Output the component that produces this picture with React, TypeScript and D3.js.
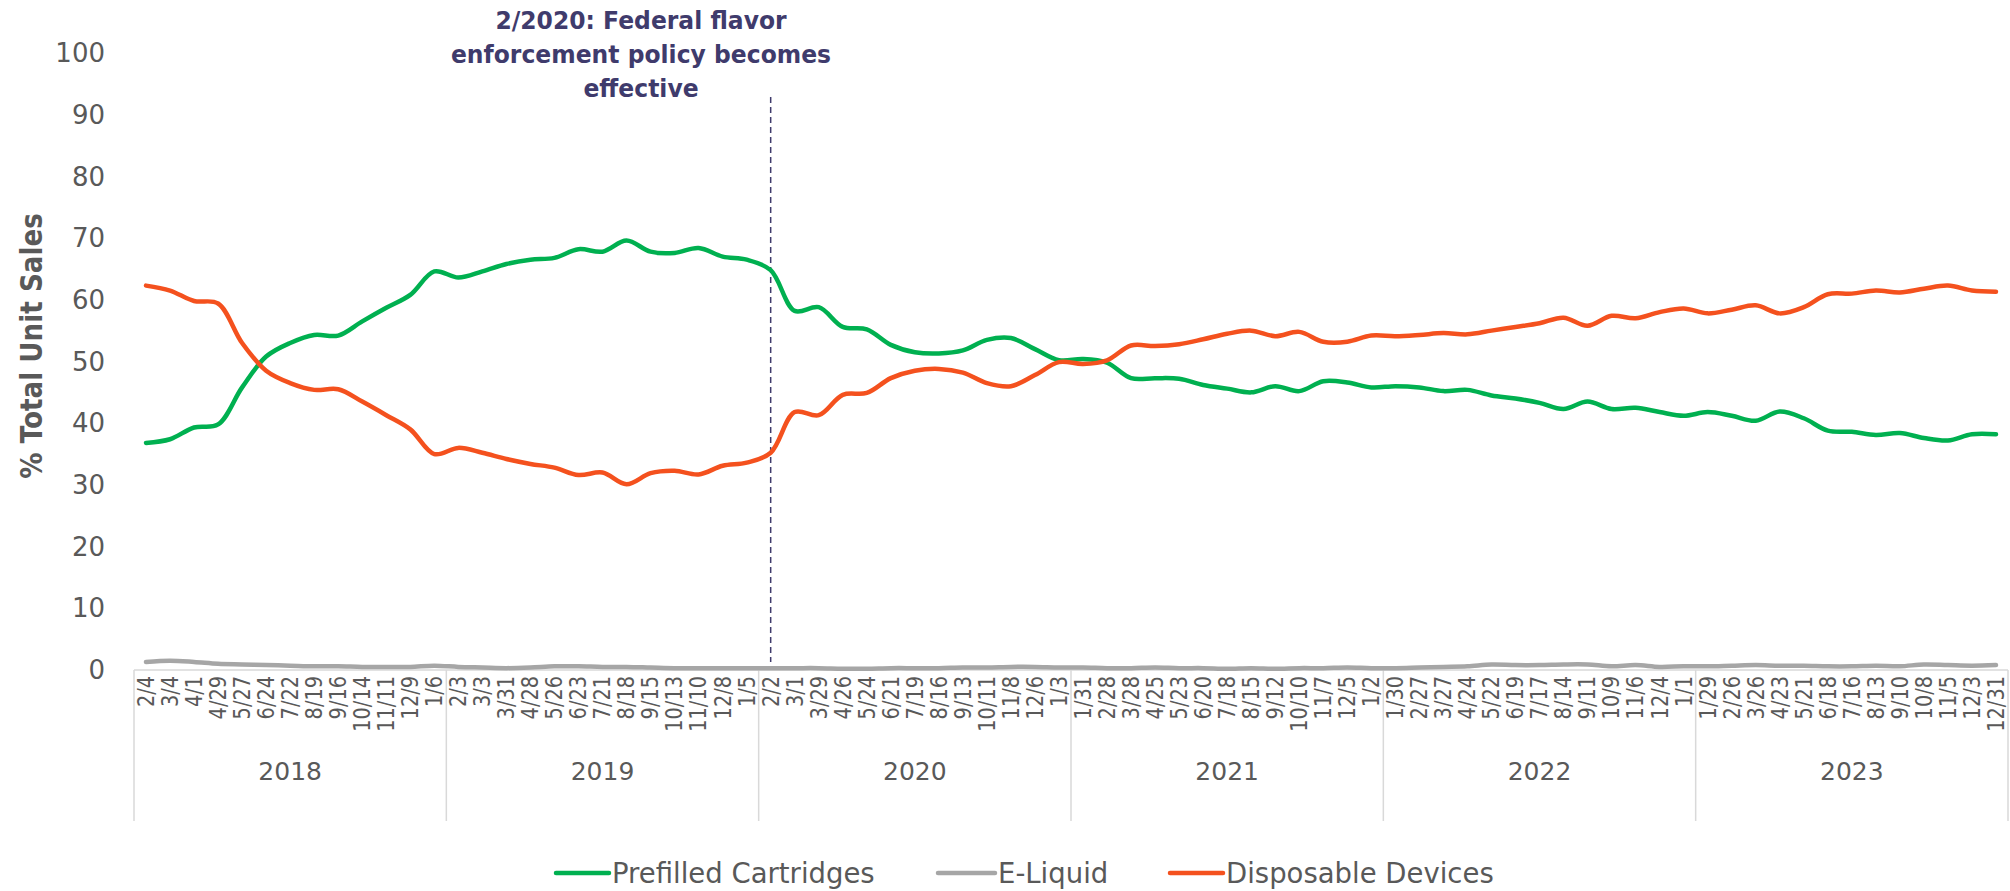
import React from "react";
import * as d3 from "d3";

const dateLabels = [
  "2/4","3/4","4/1","4/29","5/27","6/24","7/22","8/19","9/16","10/14","11/11","12/9","1/6",
  "2/3","3/3","3/31","4/28","5/26","6/23","7/21","8/18","9/15","10/13","11/10","12/8","1/5",
  "2/2","3/1","3/29","4/26","5/24","6/21","7/19","8/16","9/13","10/11","11/8","12/6","1/3",
  "1/31","2/28","3/28","4/25","5/23","6/20","7/18","8/15","9/12","10/10","11/7","12/5","1/2",
  "1/30","2/27","3/27","4/24","5/22","6/19","7/17","8/14","9/11","10/9","11/6","12/4","1/1",
  "1/29","2/26","3/26","4/23","5/21","6/18","7/16","8/13","9/10","10/8","11/5","12/3","12/31",
];
const years = ["2018", "2019", "2020", "2021", "2022", "2023"];
const yearSizes = [13, 13, 13, 13, 13, 13];

const prefilled = [
  36.8, 37.4, 39.3, 39.8, 45.8, 50.8, 53.0, 54.3, 54.2, 56.5, 58.7, 60.8, 64.6,
  63.6, 64.6, 65.8, 66.5, 66.8, 68.2, 67.8, 69.6, 67.8, 67.6, 68.4, 67.0, 66.5,
  64.8, 58.2, 58.8, 55.6, 55.2, 52.7, 51.5, 51.3, 51.8, 53.5, 53.8, 52.0, 50.2,
  50.4, 49.8, 47.3, 47.3, 47.2, 46.2, 45.6, 45.0, 46.0, 45.2, 46.8, 46.6, 45.8,
  46.0, 45.8, 45.2, 45.4, 44.5, 44.0, 43.3, 42.3, 43.5, 42.3, 42.5, 41.8, 41.2,
  41.8, 41.2, 40.4, 41.9, 40.8, 38.8, 38.6, 38.1, 38.4, 37.6, 37.2, 38.2, 38.2,
];
const eLiquid = [
  1.3, 1.5, 1.3, 1.0, 0.9, 0.8, 0.7, 0.6, 0.6, 0.5, 0.5, 0.5, 0.7,
  0.5, 0.4, 0.3, 0.4, 0.6, 0.6, 0.5, 0.5, 0.4, 0.3, 0.3, 0.3, 0.3,
  0.3, 0.3, 0.3, 0.2, 0.2, 0.3, 0.3, 0.3, 0.4, 0.4, 0.5, 0.5, 0.4,
  0.4, 0.3, 0.3, 0.4, 0.3, 0.3, 0.2, 0.3, 0.2, 0.3, 0.3, 0.4, 0.3,
  0.3, 0.4, 0.5, 0.6, 0.9, 0.8, 0.8, 0.9, 0.9, 0.6, 0.8, 0.5, 0.6,
  0.6, 0.7, 0.8, 0.7, 0.7, 0.6, 0.6, 0.7, 0.6, 0.9, 0.8, 0.7, 0.8,
];
const disposable = [
  62.3, 61.5, 59.8, 59.4, 53.0, 48.5, 46.5, 45.4, 45.5, 43.5, 41.3, 39.0, 35.0,
  36.0, 35.2, 34.2, 33.4, 32.8, 31.6, 32.0, 30.1, 31.9, 32.3, 31.7, 33.1, 33.6,
  35.2, 41.8, 41.3, 44.6, 44.9, 47.3, 48.5, 48.8, 48.2, 46.5, 46.0, 47.8, 49.9,
  49.6, 50.2, 52.6, 52.5, 52.8, 53.6, 54.5, 55.0, 54.1, 54.8, 53.2, 53.2, 54.2,
  54.1, 54.3, 54.6, 54.4, 55.0, 55.6, 56.2, 57.1, 55.8, 57.4, 57.0, 58.0, 58.6,
  57.8, 58.4, 59.1, 57.8, 58.8, 60.9, 61.0, 61.5, 61.2, 61.8, 62.3, 61.5, 61.3,
];
const seriesNames = ["Prefilled Cartridges", "E-Liquid", "Disposable Devices"];
const seriesColors = ["#00B050", "#A6A6A6", "#F4511E"];
const yTicks = [0, 10, 20, 30, 40, 50, 60, 70, 80, 90, 100];
const annotationLines = ["2/2020: Federal flavor", "enforcement policy becomes", "effective"];
const annotationIndex = 26;

const W = 2010;
const H = 891;
const FONT = "'DejaVu Sans', Verdana, sans-serif";
const TXT = "#595959";

export default function App() {
  const x = d3.scaleBand<number>().domain(d3.range(dateLabels.length)).range([134, 2008]).padding(0);
  const cx = (i: number) => (x(i) as number) + x.bandwidth() / 2;
  const y = d3.scaleLinear().domain([0, 100]).range([670, 53]);
  const line = d3
    .line<number>()
    .x((_, i) => cx(i))
    .y((d) => y(d))
    .curve(d3.curveCatmullRom.alpha(0.5));
  const series = [prefilled, eLiquid, disposable];

  let acc = 0;
  const groups = yearSizes.map((n, k) => {
    const start = acc;
    acc += n;
    return { year: years[k], start, end: acc };
  });
  const boundaryX = (idx: number) => (idx >= dateLabels.length ? 2008 : (x(idx) as number));

  const legendItems = [
    { m0: 556, m1: 609, t: 612 },
    { m0: 938, m1: 995, t: 998 },
    { m0: 1170, m1: 1223, t: 1226 },
  ];
  const legendY = 873;

  return (
    <svg
      width={W}
      height={H}
      style={{ position: "absolute", left: 0, top: 0, background: "#fff" }}
      fontFamily={FONT}
    >
      <rect x={0} y={0} width={W} height={H} fill="#fff" />
      {yTicks.map((v) => (
        <text key={v} x={105} y={y(v)} dy="0.35em" textAnchor="end" fontSize={26} fill={TXT}>
          {v}
        </text>
      ))}
      <text
        transform={`translate(31,346) rotate(-90) scale(0.86,1)`}
        textAnchor="middle"
        dy="0.35em"
        fontSize={30.5}
        fontWeight="bold"
        fill={TXT}
      >
        % Total Unit Sales
      </text>
      <line x1={134} x2={2008} y1={670} y2={670} stroke="#D9D9D9" strokeWidth={1.5} />
      {groups.map((g) => (
        <line
          key={"b" + g.start}
          x1={boundaryX(g.start)}
          x2={boundaryX(g.start)}
          y1={670}
          y2={821}
          stroke="#D9D9D9"
          strokeWidth={1.5}
        />
      ))}
      <line x1={2008} x2={2008} y1={670} y2={821} stroke="#D9D9D9" strokeWidth={1.5} />
      {dateLabels.map((l, i) => (
        <text
          key={"d" + i}
          transform={`translate(${cx(i)},676) rotate(-90) scale(0.86,1)`}
          textAnchor="end"
          dy="0.35em"
          fontSize={22.5}
          fill={TXT}
        >
          {l}
        </text>
      ))}
      {groups.map((g) => (
        <text
          key={g.year}
          x={(boundaryX(g.start) + boundaryX(g.end)) / 2}
          y={771}
          dy="0.35em"
          textAnchor="middle"
          fontSize={25}
          fill={TXT}
        >
          {g.year}
        </text>
      ))}
      <line
        x1={cx(annotationIndex)}
        x2={cx(annotationIndex)}
        y1={97}
        y2={662}
        stroke="#3F3B6C"
        strokeWidth={1.5}
        strokeDasharray="6,4"
      />
      {annotationLines.map((t, k) => (
        <text
          key={t}
          transform={`translate(641,${20 + k * 34}) scale(0.92,1)`}
          dy="0.35em"
          textAnchor="middle"
          fontSize={25.5}
          fontWeight="bold"
          fill="#3F3B6C"
        >
          {t}
        </text>
      ))}
      {series.map((s, k) => (
        <path
          key={seriesNames[k]}
          d={line(s) || ""}
          fill="none"
          stroke={seriesColors[k]}
          strokeWidth={4.5}
          strokeLinejoin="round"
          strokeLinecap="round"
        />
      ))}
      {legendItems.map((it, k) => (
        <g key={"lg" + k}>
          <line
            x1={it.m0}
            x2={it.m1}
            y1={legendY}
            y2={legendY}
            stroke={seriesColors[k]}
            strokeWidth={4.5}
            strokeLinecap="round"
          />
          <text x={it.t} y={legendY} dy="0.35em" fontSize={27.5} fill={TXT}>
            {seriesNames[k]}
          </text>
        </g>
      ))}
    </svg>
  );
}
